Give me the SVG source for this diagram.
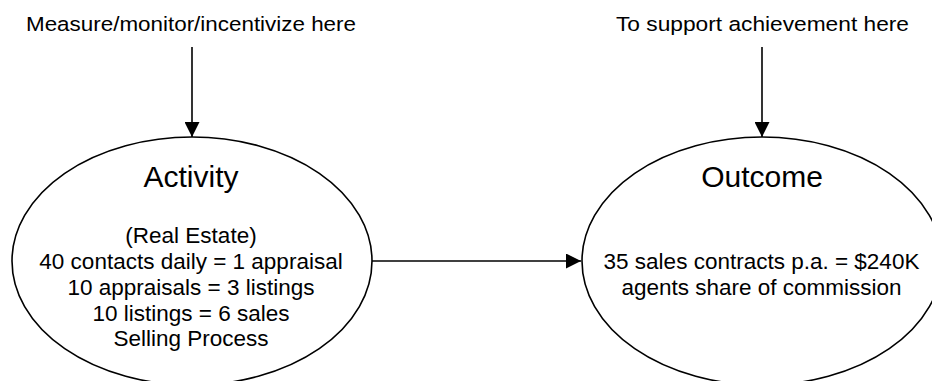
<svg xmlns="http://www.w3.org/2000/svg" width="932" height="381" viewBox="0 0 932 381">
<style>
  text { font-family: "Liberation Sans", Arial, sans-serif; fill: #000; text-anchor: middle; }
  .lbl { font-size: 20.5px; }
  .title { font-size: 30px; }
  .body { font-size: 22.5px; }
  .shape { fill: #fff; stroke: #000; stroke-width: 1.6; }
  .conn { stroke: #000; stroke-width: 1.6; fill: none; marker-end: url(#arrow); }
</style>
<defs>
  <marker id="arrow" markerUnits="userSpaceOnUse" markerWidth="15" markerHeight="15" refX="15" refY="7.5" orient="auto">
    <path d="M0,0 L15,7.5 L0,15 Z" fill="#000"/>
  </marker>
</defs>
<rect width="932" height="381" fill="#fff"/>
<g id="label-measure">
  <text class="lbl" x="191" y="31" textLength="330" lengthAdjust="spacingAndGlyphs">Measure/monitor/incentivize here</text>
</g>
<g id="label-support">
  <text class="lbl" x="762.5" y="31" textLength="293" lengthAdjust="spacingAndGlyphs">To support achievement here</text>
</g>
<g id="node-activity">
  <ellipse class="shape" cx="192" cy="261" rx="180" ry="124"/>
  <text class="title" x="191" y="187">Activity</text>
  <text class="body" x="191" y="243">(Real Estate)</text>
  <text class="body" x="191" y="269">40 contacts daily = 1 appraisal</text>
  <text class="body" x="191" y="295">10 appraisals = 3 listings</text>
  <text class="body" x="191" y="320.5">10 listings = 6 sales</text>
  <text class="body" x="191" y="346">Selling Process</text>
</g>
<g id="node-outcome">
  <ellipse class="shape" cx="762" cy="261" rx="180" ry="124"/>
  <text class="title" x="762" y="187">Outcome</text>
  <text class="body" x="761.5" y="269">35 sales contracts p.a. = $240K</text>
  <text class="body" x="761.5" y="295">agents share of commission</text>
</g>
<g id="connectors">
  <line class="conn" x1="192" y1="47" x2="192" y2="137"/>
  <line class="conn" x1="762" y1="47" x2="762" y2="137"/>
  <line class="conn" x1="372" y1="261" x2="581" y2="261"/>
</g>
</svg>
